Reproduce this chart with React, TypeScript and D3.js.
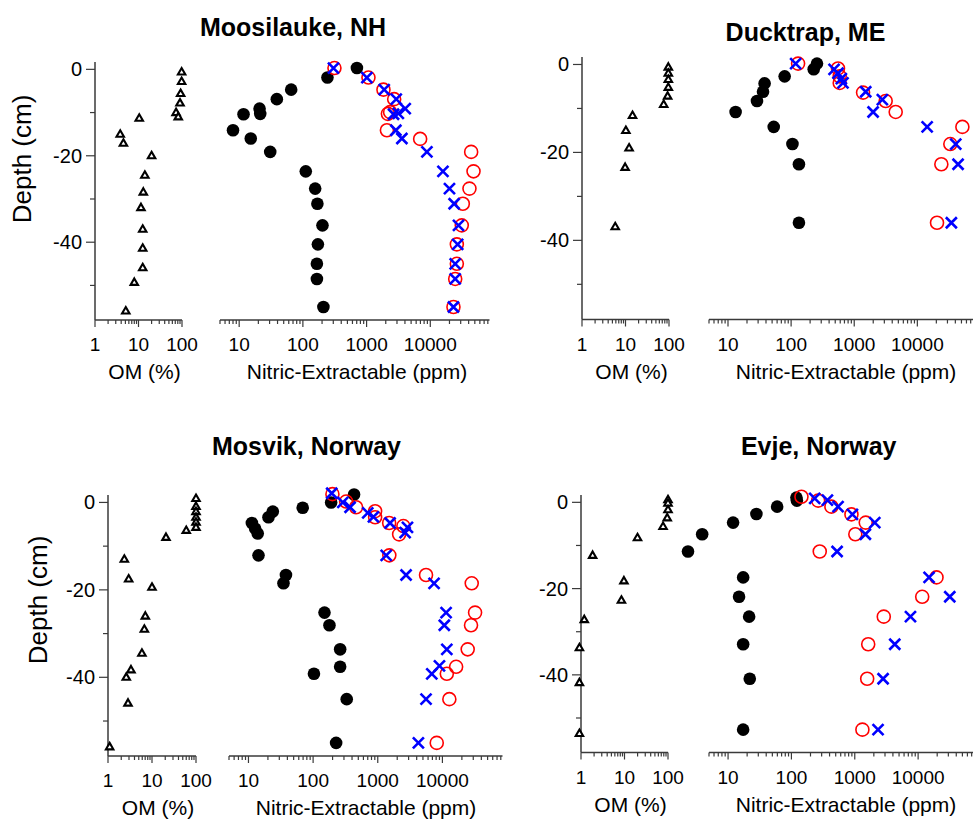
import React from 'react'
import * as d3 from 'd3'

// each profile point is [value, depth in cm]
const moosilaukeOM: [number, number][] = [
  [98, -0.5], [98, -2.7], [93, -5.5], [90, -7.7], [73, -9.9], [82, -10.9],
  [10.4, -11.2], [3.8, -14.9], [4.5, -17], [20, -19.9], [14, -24.4], [12.9, -28.3],
  [11.4, -31.9], [12.5, -36.9], [12.5, -41.3], [12.5, -45.8], [8, -49.2], [5.1, -55.8],
]
const moosilaukeBlack: [number, number][] = [
  [705, 0.3], [243, -1.9], [65.5, -4.7], [39, -6.9], [20.9, -9.1], [21.4, -10.3],
  [11.7, -10.4], [8, -14.1], [15.2, -16], [30.7, -19.1], [111, -23.6], [156, -27.6],
  [169, -31.1], [203, -36.1], [172, -40.5], [166, -45], [166, -48.5], [210, -55],
]
const moosilaukeRed: [number, number][] = [
  [313, 0.3], [1070, -1.9], [1840, -4.7], [2710, -6.9], [2340, -9.9], [2160, -10.3],
  [2085, -14.1], [6930, -16.1], [43800, -19.1], [47700, -23.6], [41200, -27.6],
  [32400, -31.1], [31200, -36.1], [26100, -40.5], [26100, -45], [24600, -48.5], [23100, -55],
]
const moosilaukeBlue: [number, number][] = [
  [302, 0.3], [1010, -1.9], [1890, -4.7], [2920, -6.9], [4040, -9.1], [2650, -10.4],
  [3150, -10.2], [2880, -14.1], [3580, -16], [8850, -19.1], [15800, -23.6], [20000, -27.6],
  [23700, -31.1], [27700, -36.1], [26900, -40.5], [24600, -45], [24600, -48.5], [23100, -55],
]

const ducktrapOM: [number, number][] = [
  [96.5, -0.5], [96.5, -1.9], [96.5, -3.3], [96.5, -5.1], [93, -7.1], [75.5, -9],
  [14.5, -11.5], [10.2, -14.9], [12.1, -18.9], [9.8, -23.3], [5.8, -36.8],
]
const ducktrapBlack: [number, number][] = [
  [257, 0.2], [228, -1.1], [79, -2.7], [38, -4.3], [35.9, -6.2], [28.8, -8.3],
  [13.2, -10.8], [53, -14.2], [105, -18.1], [133, -22.7], [133, -36],
]
const ducktrapRed: [number, number][] = [
  [129, 0.2], [553, -0.9], [589, -2.7], [589, -4.2], [1380, -6.4], [3150, -8.3],
  [4540, -10.8], [51700, -14.2], [33300, -18.1], [24000, -22.7], [20500, -36],
]
const ducktrapBlue: [number, number][] = [
  [118, 0.2], [479, -1.1], [553, -2], [625, -3.2], [664, -4.2], [1520, -6.2],
  [2790, -8], [1990, -10.8], [14300, -14.2], [40600, -18.1], [44200, -22.7], [34600, -36],
]

const mosvikOM: [number, number][] = [
  [100, 1], [100, -0.8], [100, -2], [100, -3.3], [100, -4.4], [100, -5.6],
  [60, -6.3], [20.8, -7.9], [2.35, -12.9], [2.95, -17.4], [10, -19.3], [7.05, -25.9],
  [6.7, -28.9], [5.9, -34.4], [3.33, -38.2], [2.6, -39.9], [2.85, -45.8], [1.09, -55.8],
]
const mosvikBlack: [number, number][] = [
  [430, 1.8], [190, 0], [69, -1.2], [23.8, -2.1], [20.4, -3.4], [11.3, -4.7],
  [12.7, -6], [13.9, -7.1], [14.3, -12.1], [38, -16.6], [34.8, -18.5], [150, -25.2],
  [179, -28.1], [262, -33.6], [262, -37.6], [103, -39.2], [331, -45], [227, -55],
]
const mosvikRed: [number, number][] = [
  [199, 1.9], [324, 0.2], [462, -1.1], [910, -2], [910, -3.4], [1500, -4.7],
  [2490, -5.4], [2140, -7.3], [1510, -12.1], [5580, -16.6], [28400, -18.5], [32000, -25.2],
  [27700, -28.1], [24600, -33.6], [16300, -37.6], [11700, -39.2], [12800, -45], [8170, -55],
]
const mosvikBlue: [number, number][] = [
  [194, 2.1], [288, 0], [373, -1.1], [700, -2.4], [857, -3.3], [1550, -4.7],
  [2880, -5.7], [2650, -6.9], [1350, -12.1], [2740, -16.6], [7430, -18.5], [11400, -25.2],
  [10700, -28.1], [11700, -33.6], [9000, -37.4], [6850, -39.2], [5580, -45], [4250, -55],
]

const evjeOM: [number, number][] = [
  [100, 0.7], [100, -0.1], [100, -1.6], [96, -3.5], [77, -5.5], [19.9, -8.1],
  [1.85, -12.2], [9.7, -18.1], [8.5, -22.6], [1.19, -27.1], [0.92, -33.6], [0.92, -41.7],
  [0.92, -53.5],
]
const evjeBlack: [number, number][] = [
  [120, 1.1], [122, 0.4], [59.5, -1], [28, -2.7], [12, -4.7], [3.9, -7.4],
  [2.33, -11.4], [17.3, -17.4], [14.9, -21.9], [21.5, -26.5], [17.3, -32.9], [22, -40.9],
  [17.3, -52.7],
]
const evjeRed: [number, number][] = [
  [144, 1.3], [264, 0.4], [428, -1], [886, -2.8], [1490, -4.7], [1020, -7.4],
  [280, -11.4], [19500, -17.4], [11600, -21.9], [2870, -26.5], [1630, -32.9], [1570, -40.9],
  [1320, -52.7],
]
const evjeBlue: [number, number][] = [
  [233, 0.9], [370, 0.5], [545, -1], [918, -2.8], [2070, -4.7], [1470, -7.4],
  [526, -11.4], [14900, -17.4], [31600, -21.9], [7570, -26.5], [4280, -32.9], [2800, -40.9],
  [2330, -52.7],
]

const siteTitles = ['Moosilauke, NH', 'Ducktrap, ME', 'Mosvik, Norway', 'Evje, Norway']
const depthTicks = [0, -20, -40]
const depthMinorTicks = [-10, -30, -50]
const omLabels = [1, 10, 100]
const nitricLabels = [10, 100, 1000, 10000]

const DEPTH_DOMAIN = [-58, 1.7]
const OM_DOMAIN = [1, 100]
const NITRIC_DOMAIN = [5, 85000]

const FONT = '"Liberation Sans", Arial, Helvetica, sans-serif'
const AXIS = '#3a3a3a'

// pixel boxes for each site panel
const boxes = [
  { axisX: 95, omRight: 182, nitLeft: 220, nitRight: 489.5, top: 62, bottom: 320, titleX: 293, titleY: 35.5, yTitle: [22, 159] },
  { axisX: 582, omRight: 669, nitLeft: 709, nitRight: 976, top: 57, bottom: 319.5, titleX: 805.5, titleY: 40.5, yTitle: null },
  { axisX: 108, omRight: 196, nitLeft: 229, nitRight: 502.5, top: 495, bottom: 756, titleX: 306.5, titleY: 455, yTitle: [38, 600] },
  { axisX: 581, omRight: 668, nitLeft: 709, nitRight: 977, top: 495, bottom: 752.5, titleX: 818.7, titleY: 455, yTitle: null },
]

const sites = [
  { om: moosilaukeOM, black: moosilaukeBlack, red: moosilaukeRed, blue: moosilaukeBlue },
  { om: ducktrapOM, black: ducktrapBlack, red: ducktrapRed, blue: ducktrapBlue },
  { om: mosvikOM, black: mosvikBlack, red: mosvikRed, blue: mosvikBlue },
  { om: evjeOM, black: evjeBlack, red: evjeRed, blue: evjeBlue },
]

const triangle = d3.symbol(d3.symbolTriangle, 24)()

function LogAxis({ scale, y, labels }: { scale: d3.ScaleLogarithmic<number, number>; y: number; labels: number[] }) {
  const [r0, r1] = scale.range()
  const ticks = scale.ticks()
  return (
    <g>
      <line x1={r0} x2={r1} y1={y} y2={y} stroke={AXIS} strokeWidth={1.5} />
      {ticks.map((t, i) => {
        const major = labels.includes(t)
        return <line key={i} x1={scale(t)} x2={scale(t)} y1={y} y2={y + (major ? 7 : 4)} stroke={AXIS} strokeWidth={1.2} />
      })}
      {labels.map(t => (
        <text key={t} x={scale(t)} y={y + 31} textAnchor="middle" fontSize={19} fontFamily={FONT}>{t}</text>
      ))}
    </g>
  )
}

function SitePanel({ idx }: { idx: number }) {
  const box = boxes[idx]
  const site = sites[idx]
  const y = d3.scaleLinear().domain(DEPTH_DOMAIN).range([box.bottom, box.top])
  const xOM = d3.scaleLog().domain(OM_DOMAIN).range([box.axisX, box.omRight])
  const xN = d3.scaleLog().domain(NITRIC_DOMAIN).range([box.nitLeft, box.nitRight])
  const omMid = (box.axisX + box.omRight) / 2 + 6
  const nitMid = box.nitLeft + 137

  return (
    <g>
      <text x={box.titleX} y={box.titleY} textAnchor="middle" fontSize={25} fontWeight="bold" fontFamily={FONT}>
        {siteTitles[idx]}
      </text>

      {/* depth axis */}
      <line x1={box.axisX} x2={box.axisX} y1={box.top} y2={box.bottom} stroke={AXIS} strokeWidth={1.5} />
      {depthTicks.map(t => (
        <g key={t}>
          <line x1={box.axisX - 9} x2={box.axisX} y1={y(t)} y2={y(t)} stroke={AXIS} strokeWidth={1.2} />
          <text x={box.axisX - 13} y={y(t)} dy="0.35em" textAnchor="end" fontSize={20} fontFamily={FONT}>{t}</text>
        </g>
      ))}
      {depthMinorTicks.map(t => (
        <line key={t} x1={box.axisX - 5} x2={box.axisX} y1={y(t)} y2={y(t)} stroke={AXIS} strokeWidth={1.2} />
      ))}
      {box.yTitle && (
        <text transform={`translate(${box.yTitle[0]},${box.yTitle[1]}) rotate(-90)`} dy="0.35em" textAnchor="middle" fontSize={26} fontFamily={FONT}>
          Depth (cm)
        </text>
      )}

      <LogAxis scale={xOM} y={box.bottom} labels={omLabels} />
      <LogAxis scale={xN} y={box.bottom} labels={nitricLabels} />
      <text x={omMid} y={box.bottom + 59} textAnchor="middle" fontSize={21} fontFamily={FONT}>OM (%)</text>
      <text x={nitMid} y={box.bottom + 59} textAnchor="middle" fontSize={21} fontFamily={FONT}>Nitric-Extractable (ppm)</text>

      {site.om.map(([v, d], i) => (
        <path key={i} d={triangle ?? ''} transform={`translate(${xOM(v)},${y(d) + 0.8})`} fill="white" stroke="black" strokeWidth={2.1} strokeLinejoin="miter" />
      ))}
      {site.black.map(([v, d], i) => (
        <circle key={i} cx={xN(v)} cy={y(d)} r={6.3} fill="black" />
      ))}
      {site.red.map(([v, d], i) => (
        <circle key={i} cx={xN(v)} cy={y(d)} r={6.5} fill="none" stroke="#ff0000" strokeWidth={1.6} />
      ))}
      {site.blue.map(([v, d], i) => {
        const cx = xN(v)
        const cy = y(d)
        const s = 5.5
        return (
          <path key={i} d={`M${cx - s},${cy - s}L${cx + s},${cy + s}M${cx - s},${cy + s}L${cx + s},${cy - s}`} stroke="#0000ff" strokeWidth={2.6} fill="none" />
        )
      })}
    </g>
  )
}

export default function App() {
  return (
    <div style={{ position: 'absolute', left: 0, top: 0 }}>
      <svg width={973} height={819} style={{ display: 'block', background: 'white' }}>
        {boxes.map((_, i) => <SitePanel key={i} idx={i} />)}
      </svg>
    </div>
  )
}
